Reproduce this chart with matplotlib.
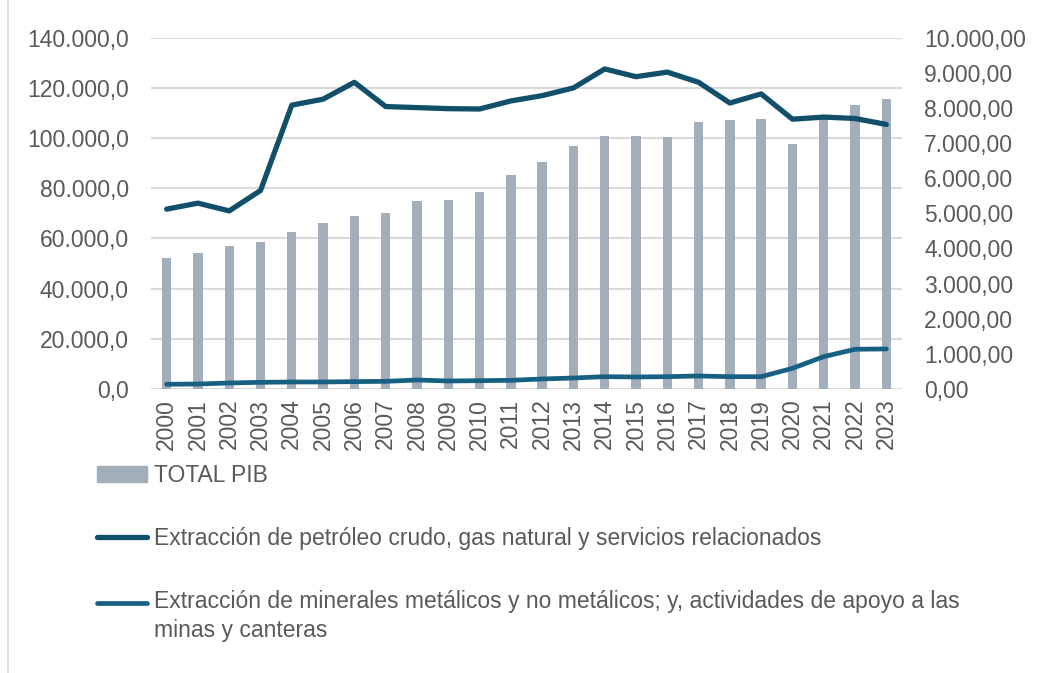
import matplotlib.pyplot as plt
from matplotlib.lines import Line2D
from matplotlib.patches import Patch
from matplotlib.legend_handler import HandlerLine2D
from matplotlib.ticker import FuncFormatter

years = [str(y) for y in range(2000, 2024)]

# TOTAL PIB (left axis)
pib = [52100, 54200, 56900, 58600, 62400, 66000, 68800, 70100, 74800, 75400,
       78500, 85300, 90300, 96800, 100800, 100900, 100300, 106300, 107300,
       107400, 97500, 107500, 113000, 115400]

# Petroleo (right axis)
petroleo = [5120, 5290, 5070, 5650, 8080, 8250, 8730, 8040, 8010, 7980,
            7970, 8200, 8350, 8570, 9110, 8890, 9020, 8730, 8140, 8400,
            7680, 7740, 7700, 7530]

# Minerales (right axis)
minerales = [134, 142, 171, 190, 200, 200, 210, 218, 256, 228, 237, 247,
             285, 313, 351, 342, 351, 370, 351, 351, 589, 921, 1131, 1140]

lbl_pib = "TOTAL PIB"
lbl_pet = "Extracción de petróleo crudo, gas natural y servicios relacionados"
lbl_min = ("Extracción de minerales metálicos y no metálicos; y, actividades de apoyo a las\n"
           "minas y canteras")

bar_color = "#A2AEBA"
pet_color = "#124F6B"
min_color = "#176084"
txt_color = "#595959"

plt.rcParams['font.family'] = ['Liberation Sans', 'DejaVu Sans']
fs = 16.5


def fmt(dec):
    def f(v, pos):
        s = f"{v:,.{dec}f}"
        return s.replace(",", "X").replace(".", ",").replace("X", ".")
    return FuncFormatter(f)


# line handle next to the first line of a two-line label
class TopLine(HandlerLine2D):
    def create_artists(self, legend, orig_handle, xdescent, ydescent,
                       width, height, fontsize, trans):
        return super().create_artists(legend, orig_handle, xdescent,
                                      ydescent - 1.2 * fontsize, width, height,
                                      fontsize, trans)


fig = plt.figure(figsize=(10.37, 6.73), dpi=100)
ax = fig.add_axes([0.1456, 0.422, 0.7242, 0.522])
ax2 = ax.twinx()

x = list(range(len(years)))
ax.bar(x, pib, width=0.3, color=bar_color, zorder=2)
ax2.plot(x, petroleo, color=pet_color, lw=3.8, solid_capstyle='round',
         solid_joinstyle='round')
ax2.plot(x, minerales, color=min_color, lw=3.4, solid_capstyle='round',
         solid_joinstyle='round')

ax.set_xlim(-0.5, len(years) - 0.5)
ax.set_ylim(0, 140000)
ax.set_yticks(range(0, 140001, 20000))
ax.yaxis.set_major_formatter(fmt(1))
ax2.set_ylim(0, 10000)
ax2.set_yticks(range(0, 10001, 1000))
ax2.yaxis.set_major_formatter(fmt(2))

ax.set_xticks(x)
ax.set_xticklabels(years, rotation=90)

ax.grid(axis='y', color='#D9D9D9', lw=1.5, zorder=0)
ax.set_axisbelow(True)
for a in (ax, ax2):
    for s in a.spines.values():
        s.set_visible(False)
    a.tick_params(length=0, labelsize=fs, colors=txt_color)
ax.tick_params(axis='y', pad=16)
ax2.tick_params(axis='y', pad=16)
ax.tick_params(axis='x', pad=7)

h_pib = Patch(color=bar_color)
h_pet = Line2D([0], [0], color=pet_color, lw=3.8, solid_capstyle='round')
h_min = Line2D([0], [0], color=min_color, lw=3.4, solid_capstyle='round')
leg = fig.legend([h_pib, h_pet, h_min], [lbl_pib, lbl_pet, lbl_min],
                 loc='upper left', bbox_to_anchor=(0.0935, 0.311),
                 frameon=False, fontsize=fs, labelcolor=txt_color,
                 handlelength=2.2, handletextpad=0.28, labelspacing=1.75,
                 borderpad=0, borderaxespad=0,
                 handler_map={h_min: TopLine()})
leg.get_texts()[2].set_linespacing(1.35)

fig.add_artist(Line2D([0.008, 0.008], [0.0, 1.0], color='#D9D9D9', lw=1.2))

fig.savefig("out.png", dpi=100)
